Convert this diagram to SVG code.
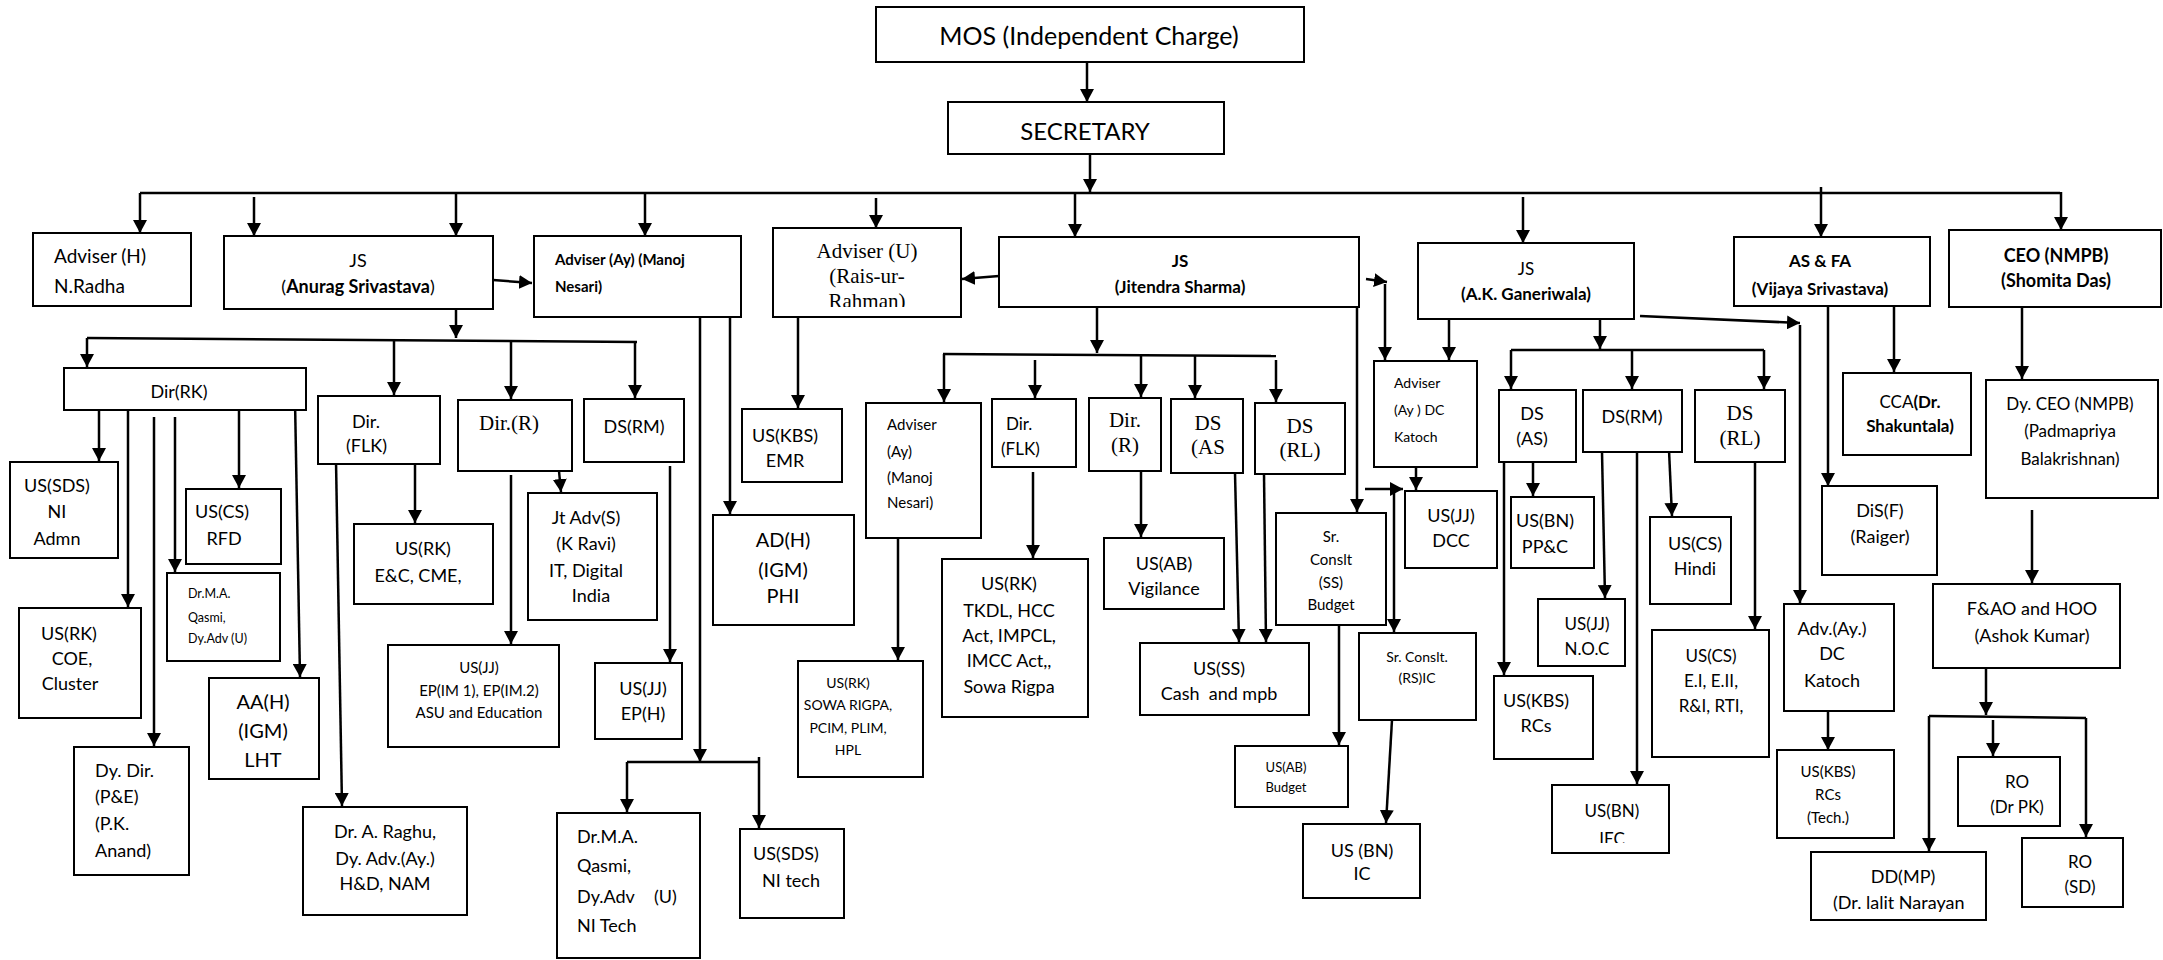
<svg xmlns="http://www.w3.org/2000/svg" width="2163" height="960" viewBox="0 0 2163 960">
<style>
.b{fill:#fff;stroke:#000;stroke-width:2}
.s{font-family:Lato,"Liberation Sans",sans-serif;fill:#000}
.t{font-family:"Liberation Serif","Times New Roman",serif;fill:#000}
.m{text-anchor:middle}
.bd{font-weight:bold}
.l{stroke:#000;stroke-width:2.5;fill:none}
.a{stroke:#000;stroke-width:2.5;fill:none;marker-end:url(#ah)}
</style>
<defs>
<marker id="ah" markerUnits="userSpaceOnUse" markerWidth="14" markerHeight="14" refX="13" refY="7" orient="auto"><path d="M0,0 L13,7 L0,14 z" fill="#000"/></marker>
<clipPath id="cU"><rect x="773" y="228" width="188" height="79"/></clipPath>
<clipPath id="cIEC"><rect x="1552" y="785" width="117" height="58"/></clipPath>
<clipPath id="cDD"><rect x="1811" y="852" width="175" height="61"/></clipPath>
<clipPath id="cAS"><rect x="1734" y="237" width="196" height="66"/></clipPath>
</defs>
<rect width="2163" height="960" fill="#fff"/>
<g id="connectors">
<path class="a" d="M1087,62 V102"/>
<path class="a" d="M1090,154 V192"/>
<path class="l" d="M140,193 H2060"/>
<path class="a" d="M140,193 V233"/>
<path class="a" d="M254,197 V236"/>
<path class="a" d="M456,193 V236"/>
<path class="a" d="M645,193 V236"/>
<path class="a" d="M876,198 V228"/>
<path class="a" d="M1075,193 V237"/>
<path class="a" d="M1523,197 V243"/>
<path class="a" d="M1821,187 V237"/>
<path class="a" d="M2061,192 V230"/>
<path class="a" d="M493,280 L532,283"/>
<path class="a" d="M999,276 L962,279"/>
<path class="a" d="M456,309 V338"/>
<path class="l" d="M87,338 L637,342"/>
<path class="a" d="M87,338 V367"/>
<path class="a" d="M394,340 V395"/>
<path class="a" d="M511,340 V399"/>
<path class="a" d="M635,342 V398"/>
<path class="a" d="M99,410 V461"/>
<path class="a" d="M128,407 V607"/>
<path class="a" d="M154,417 V746"/>
<path class="a" d="M175,417 V572"/>
<path class="a" d="M239,410 V488"/>
<path class="a" d="M295,400 L300,677"/>
<path class="a" d="M336,461 L342,806"/>
<path class="a" d="M415,463 V523"/>
<path class="a" d="M511,475 V644"/>
<path class="a" d="M559,471 L561,492"/>
<path class="a" d="M670,466 V662"/>
<path class="a" d="M700,317 V762"/>
<path class="l" d="M627,762 H759"/>
<path class="a" d="M627,762 V812"/>
<path class="a" d="M759,757 V828"/>
<path class="a" d="M730,317 V514"/>
<path class="a" d="M798,317 V408"/>
<path class="a" d="M1097,307 V353"/>
<path class="l" d="M943,354 L1276,356"/>
<path class="a" d="M944,354 V402"/>
<path class="a" d="M1035,360 V398"/>
<path class="a" d="M1141,356 V397"/>
<path class="a" d="M1195,356 V398"/>
<path class="a" d="M1276,360 V402"/>
<path class="a" d="M898,538 V660"/>
<path class="a" d="M1033,472 V558"/>
<path class="a" d="M1141,471 V537"/>
<path class="a" d="M1235,473 L1239,642"/>
<path class="a" d="M1264,474 L1266,642"/>
<path class="a" d="M1357,307 V512"/>
<path class="a" d="M1339,625 V745"/>
<path class="a" d="M1365,489 H1403"/>
<path class="a" d="M1394,490 V632"/>
<path class="a" d="M1392,720 L1386,823"/>
<path class="a" d="M1385,284 V360"/>
<path class="a" d="M1366,279 L1387,282"/>
<path class="a" d="M1449,319 V360"/>
<path class="a" d="M1416,467 V490"/>
<path class="a" d="M1600,313 V349"/>
<path class="l" d="M1511,350 H1764"/>
<path class="a" d="M1511,350 V389"/>
<path class="a" d="M1632,350 V389"/>
<path class="a" d="M1764,350 V389"/>
<path class="a" d="M1533,462 V496"/>
<path class="a" d="M1504,462 V675"/>
<path class="a" d="M1602,452 L1605,598"/>
<path class="a" d="M1637,452 V784"/>
<path class="a" d="M1669,450 L1672,516"/>
<path class="a" d="M1755,462 V629"/>
<path class="a" d="M1640,316 L1800,323"/>
<path class="a" d="M1800,325 V603"/>
<path class="a" d="M1828,306 V486"/>
<path class="a" d="M1894,306 V372"/>
<path class="a" d="M2022,300 V379"/>
<path class="a" d="M2032,510 V583"/>
<path class="a" d="M1828,711 V750"/>
<path class="a" d="M1986,668 V715"/>
<path class="l" d="M1929,716 L2086,718"/>
<path class="a" d="M1929,716 V851"/>
<path class="a" d="M1993,720 V756"/>
<path class="a" d="M2086,718 V837"/>
</g>
<g id="mos"><rect class="b" x="876" y="7" width="428" height="55"/><text class="s m" x="1089" y="45" font-size="25">MOS (Independent Charge)</text></g>
<g id="secretary"><rect class="b" x="948" y="102" width="276" height="52"/><text class="s m" x="1085" y="140" font-size="24">SECRETARY</text></g>
<g id="adviser-h"><rect class="b" x="33" y="233" width="158" height="73"/><text class="s" x="54" y="263" font-size="19">Adviser (H)<tspan x="54" y="293">N.Radha</tspan></text></g>
<g id="js-anurag"><rect class="b" x="224" y="236" width="269" height="73"/><text class="s m" x="358" y="267" font-size="18">JS<tspan x="358" y="293">(<tspan class="bd">Anurag Srivastava</tspan>)</tspan></text></g>
<g id="adviser-ay"><rect class="b" x="534" y="236" width="207" height="81"/><text class="s bd" x="555" y="265" font-size="15">Adviser (Ay) (Manoj<tspan x="555" y="292">Nesari)</tspan></text></g>
<g id="adviser-u"><rect class="b" x="773" y="228" width="188" height="89"/><text class="t m" x="867" y="258" font-size="21" clip-path="url(#cU)">Adviser (U)<tspan x="867" y="283">(Rais-ur-</tspan><tspan x="867" y="308">Rahman)</tspan></text></g>
<g id="js-jitendra"><rect class="b" x="999" y="237" width="360" height="70"/><text class="s m bd" x="1180" y="267" font-size="17">JS<tspan x="1180" y="293">(Jitendra Sharma)</tspan></text></g>
<g id="js-ak"><rect class="b" x="1418" y="243" width="216" height="76"/><text class="s m" x="1526" y="275" font-size="17">JS<tspan class="bd" x="1526" y="300">(A.K. Ganeriwala)</tspan></text></g>
<g id="as-fa"><rect class="b" x="1734" y="237" width="196" height="69"/><text class="s m bd" x="1820" y="267" font-size="17" clip-path="url(#cAS)">AS &amp; FA<tspan x="1820" y="295">(Vijaya Srivastava)</tspan></text></g>
<g id="ceo"><rect class="b" x="1949" y="230" width="212" height="77"/><text class="s m bd" x="2056" y="262" font-size="18">CEO (NMPB)<tspan x="2056" y="287">(Shomita Das)</tspan></text></g>
<g id="dir-rk"><rect class="b" x="64" y="368" width="242" height="42"/><text class="s m" x="179" y="398" font-size="18">Dir(RK)</text></g>
<g id="dir-flk"><rect class="b" x="318" y="396" width="122" height="68"/><text class="s" x="352" y="428" font-size="18">Dir.<tspan x="346" y="452">(FLK)</tspan></text></g>
<g id="dir-r"><rect class="b" x="458" y="400" width="114" height="71"/><text class="t" x="479" y="430" font-size="21">Dir.(R)</text></g>
<g id="ds-rm"><rect class="b" x="584" y="399" width="100" height="63"/><text class="s m" x="634" y="433" font-size="18">DS(RM)</text></g>
<g id="us-kbs-emr"><rect class="b" x="742" y="409" width="100" height="73"/><text class="s m" x="785" y="442" font-size="18">US(KBS)<tspan x="785" y="467">EMR</tspan></text></g>
<g id="adviser-ay-2"><rect class="b" x="866" y="403" width="115" height="135"/><text class="s" x="887" y="430" font-size="15">Adviser<tspan x="887" y="457">(Ay)</tspan><tspan x="887" y="483">(Manoj</tspan><tspan x="887" y="508">Nesari)</tspan></text></g>
<g id="dir-flk-2"><rect class="b" x="992" y="399" width="84" height="68"/><text class="s" x="1006" y="430" font-size="17">Dir.<tspan x="1001" y="455">(FLK)</tspan></text></g>
<g id="dir-r-2"><rect class="b" x="1089" y="398" width="72" height="73"/><text class="t m" x="1125" y="427" font-size="21">Dir.<tspan x="1125" y="452">(R)</tspan></text></g>
<g id="ds-as"><rect class="b" x="1171" y="399" width="72" height="74"/><text class="t m" x="1208" y="430" font-size="21">DS<tspan x="1208" y="454">(AS</tspan></text></g>
<g id="ds-rl"><rect class="b" x="1255" y="403" width="90" height="71"/><text class="t m" x="1300" y="433" font-size="21">DS<tspan x="1300" y="457">(RL)</tspan></text></g>
<g id="adviser-dc-katoch"><rect class="b" x="1374" y="361" width="103" height="106"/><text class="s" x="1394" y="388" font-size="14">Adviser<tspan x="1394" y="415">(Ay ) DC</tspan><tspan x="1394" y="442">Katoch</tspan></text></g>
<g id="ds-as-2"><rect class="b" x="1499" y="390" width="77" height="72"/><text class="s m" x="1532" y="420" font-size="18">DS<tspan x="1532" y="445">(AS)</tspan></text></g>
<g id="ds-rm-2"><rect class="b" x="1583" y="390" width="99" height="62"/><text class="s m" x="1632" y="423" font-size="18">DS(RM)</text></g>
<g id="ds-rl-2"><rect class="b" x="1695" y="390" width="90" height="72"/><text class="t m" x="1740" y="420" font-size="21">DS<tspan x="1740" y="445">(RL)</tspan></text></g>
<g id="cca"><rect class="b" x="1843" y="373" width="128" height="82"/><text class="s m" x="1910" y="408" font-size="17">CCA<tspan class="bd">(Dr.</tspan><tspan class="bd" x="1910" y="432">Shakuntala)</tspan></text></g>
<g id="dy-ceo"><rect class="b" x="1986" y="380" width="172" height="118"/><text class="s m" x="2070" y="410" font-size="17">Dy. CEO (NMPB)<tspan x="2070" y="437">(Padmapriya</tspan><tspan x="2070" y="465">Balakrishnan)</tspan></text></g>
<g id="us-sds-admn"><rect class="b" x="10" y="462" width="108" height="96"/><text class="s m" x="57" y="492" font-size="18">US(SDS)<tspan x="57" y="518">NI</tspan><tspan x="57" y="545">Admn</tspan></text></g>
<g id="us-cs-rfd"><rect class="b" x="186" y="489" width="95" height="75"/><text class="s m" x="222" y="518" font-size="18">US(CS)<tspan x="224" y="545">RFD</tspan></text></g>
<g id="qasmi-1"><rect class="b" x="167" y="573" width="113" height="88"/><text class="s" x="188" y="598" font-size="12.5">Dr.M.A.<tspan x="188" y="622">Qasmi,</tspan><tspan x="188" y="643">Dy.Adv (U)</tspan></text></g>
<g id="us-rk-coe"><rect class="b" x="19" y="608" width="122" height="110"/><text class="s m" x="69" y="640" font-size="18">US(RK)<tspan x="72" y="665">COE,</tspan><tspan x="70" y="690">Cluster</tspan></text></g>
<g id="dy-dir"><rect class="b" x="74" y="747" width="115" height="128"/><text class="s" x="95" y="777" font-size="18">Dy. Dir.<tspan x="95" y="803">(P&amp;E)</tspan><tspan x="95" y="830">(P.K.</tspan><tspan x="95" y="857">Anand)</tspan></text></g>
<g id="aa-h"><rect class="b" x="209" y="678" width="110" height="101"/><text class="s m" x="263" y="709" font-size="20">AA(H)<tspan x="263" y="738">(IGM)</tspan><tspan x="263" y="767">LHT</tspan></text></g>
<g id="raghu"><rect class="b" x="303" y="807" width="164" height="108"/><text class="s m" x="385" y="838" font-size="18">Dr. A. Raghu,<tspan x="385" y="865">Dy. Adv.(Ay.)</tspan><tspan x="385" y="890">H&amp;D, NAM</tspan></text></g>
<g id="us-rk-ec"><rect class="b" x="354" y="524" width="139" height="80"/><text class="s m" x="423" y="555" font-size="18">US(RK)<tspan x="418" y="582">E&amp;C, CME,</tspan></text></g>
<g id="jt-adv"><rect class="b" x="528" y="493" width="129" height="127"/><text class="s m" x="586" y="524" font-size="18">Jt Adv(S)<tspan x="586" y="550">(K Ravi)</tspan><tspan x="586" y="577">IT, Digital</tspan><tspan x="591" y="602">India</tspan></text></g>
<g id="us-jj-ep"><rect class="b" x="388" y="645" width="171" height="102"/><text class="s m" x="479" y="673" font-size="15">US(JJ)<tspan x="479" y="696">EP(IM 1), EP(IM.2)</tspan><tspan x="479" y="718">ASU and Education</tspan></text></g>
<g id="us-jj-eph"><rect class="b" x="595" y="663" width="87" height="76"/><text class="s m" x="643" y="695" font-size="18">US(JJ)<tspan x="643" y="720">EP(H)</tspan></text></g>
<g id="ad-h"><rect class="b" x="713" y="515" width="141" height="110"/><text class="s m" x="783" y="547" font-size="20">AD(H)<tspan x="783" y="577">(IGM)</tspan><tspan x="783" y="603">PHI</tspan></text></g>
<g id="qasmi-2"><rect class="b" x="557" y="813" width="143" height="145"/><text class="s" x="577" y="843" font-size="18">Dr.M.A.<tspan x="577" y="872">Qasmi,</tspan><tspan x="577" y="903">Dy.Adv</tspan><tspan x="654" y="903">(U)</tspan><tspan x="577" y="932">NI Tech</tspan></text></g>
<g id="us-sds-nitech"><rect class="b" x="740" y="829" width="104" height="89"/><text class="s m" x="786" y="860" font-size="18">US(SDS)<tspan x="791" y="887">NI tech</tspan></text></g>
<g id="us-rk-sowa"><rect class="b" x="798" y="661" width="125" height="116"/><text class="s m" x="848" y="688" font-size="14">US(RK)<tspan x="848" y="710">SOWA RIGPA,</tspan><tspan x="848" y="733">PCIM, PLIM,</tspan><tspan x="848" y="755">HPL</tspan></text></g>
<g id="us-rk-tkdl"><rect class="b" x="942" y="559" width="146" height="158"/><text class="s m" x="1009" y="590" font-size="18">US(RK)<tspan x="1009" y="617">TKDL, HCC</tspan><tspan x="1009" y="642">Act, IMPCL,</tspan><tspan x="1009" y="667">IMCC Act,,</tspan><tspan x="1009" y="693">Sowa Rigpa</tspan></text></g>
<g id="us-ab-vig"><rect class="b" x="1104" y="538" width="120" height="71"/><text class="s m" x="1164" y="570" font-size="18">US(AB)<tspan x="1164" y="595">Vigilance</tspan></text></g>
<g id="us-ss"><rect class="b" x="1140" y="643" width="169" height="72"/><text class="s m" x="1219" y="675" font-size="18">US(SS)<tspan x="1219" y="700" xml:space="preserve">Cash  and mpb</tspan></text></g>
<g id="sr-conslt-ss"><rect class="b" x="1276" y="513" width="110" height="112"/><text class="s m" x="1331" y="542" font-size="15">Sr.<tspan x="1331" y="565">Conslt</tspan><tspan x="1331" y="588">(SS)</tspan><tspan x="1331" y="610">Budget</tspan></text></g>
<g id="us-ab-budget"><rect class="b" x="1235" y="746" width="113" height="61"/><text class="s m" x="1286" y="772" font-size="13">US(AB)<tspan x="1286" y="792">Budget</tspan></text></g>
<g id="sr-conslt-rs"><rect class="b" x="1359" y="633" width="117" height="87"/><text class="s m" x="1417" y="662" font-size="14">Sr. Conslt.<tspan x="1417" y="683">(RS)IC</tspan></text></g>
<g id="us-bn-ic"><rect class="b" x="1303" y="824" width="117" height="74"/><text class="s m" x="1362" y="857" font-size="18">US (BN)<tspan x="1362" y="880">IC</tspan></text></g>
<g id="us-jj-dcc"><rect class="b" x="1405" y="491" width="92" height="77"/><text class="s m" x="1451" y="522" font-size="18">US(JJ)<tspan x="1451" y="547">DCC</tspan></text></g>
<g id="us-bn-ppc"><rect class="b" x="1511" y="497" width="83" height="71"/><text class="s m" x="1545" y="527" font-size="18">US(BN)<tspan x="1545" y="553">PP&amp;C</tspan></text></g>
<g id="us-kbs-rcs"><rect class="b" x="1494" y="676" width="99" height="83"/><text class="s m" x="1536" y="707" font-size="18">US(KBS)<tspan x="1536" y="732">RCs</tspan></text></g>
<g id="us-jj-noc"><rect class="b" x="1538" y="599" width="87" height="67"/><text class="s m" x="1587" y="630" font-size="17">US(JJ)<tspan x="1587" y="655">N.O.C</tspan></text></g>
<g id="us-bn-iec"><rect class="b" x="1552" y="785" width="117" height="68"/><text class="s m" x="1612" y="817" font-size="17" clip-path="url(#cIEC)">US(BN)<tspan x="1612" y="845">IEC</tspan></text></g>
<g id="us-cs-hindi"><rect class="b" x="1650" y="517" width="81" height="87"/><text class="s m" x="1695" y="550" font-size="18">US(CS)<tspan x="1695" y="575">Hindi</tspan></text></g>
<g id="us-cs-ei"><rect class="b" x="1652" y="630" width="117" height="127"/><text class="s m" x="1711" y="662" font-size="17">US(CS)<tspan x="1711" y="687">E.I, E.II,</tspan><tspan x="1711" y="712">R&amp;I, RTI,</tspan></text></g>
<g id="dis-f"><rect class="b" x="1822" y="486" width="115" height="89"/><text class="s m" x="1880" y="517" font-size="18">DiS(F)<tspan x="1880" y="543">(Raiger)</tspan></text></g>
<g id="fao"><rect class="b" x="1933" y="584" width="187" height="84"/><text class="s m" x="2032" y="615" font-size="18">F&amp;AO and HOO<tspan x="2032" y="642">(Ashok Kumar)</tspan></text></g>
<g id="adv-dc-katoch"><rect class="b" x="1784" y="604" width="110" height="107"/><text class="s m" x="1832" y="635" font-size="18">Adv.(Ay.)<tspan x="1832" y="660">DC</tspan><tspan x="1832" y="687">Katoch</tspan></text></g>
<g id="us-kbs-tech"><rect class="b" x="1777" y="750" width="117" height="88"/><text class="s m" x="1828" y="777" font-size="15">US(KBS)<tspan x="1828" y="800">RCs</tspan><tspan x="1828" y="823">(Tech.)</tspan></text></g>
<g id="dd-mp"><rect class="b" x="1811" y="852" width="175" height="68"/><text class="s" font-size="18" clip-path="url(#cDD)"><tspan class="m" x="1903" y="883">DD(MP)</tspan><tspan x="1833" y="909">(Dr. lalit Narayan</tspan></text></g>
<g id="ro-pk"><rect class="b" x="1958" y="757" width="102" height="69"/><text class="s m" x="2017" y="788" font-size="17">RO<tspan x="2017" y="813">(Dr PK)</tspan></text></g>
<g id="ro-sd"><rect class="b" x="2022" y="838" width="101" height="69"/><text class="s m" x="2080" y="868" font-size="17">RO<tspan x="2080" y="893">(SD)</tspan></text></g>
</svg>
